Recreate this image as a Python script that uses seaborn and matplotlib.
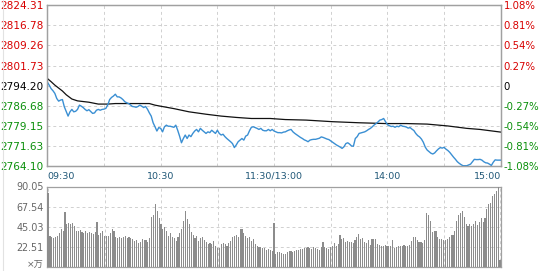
import matplotlib
matplotlib.use("Agg")
import matplotlib.pyplot as plt
import seaborn as sns
from matplotlib.lines import Line2D
from matplotlib.transforms import Affine2D

# ---------------- data ----------------
minutes = list(range(241))  # 0 = 09:30, 120 = 11:30/13:00, 240 = 15:00

price = [
    2795.6, 2794.4, 2793.1, 2792.3, 2791.3, 2789.4, 2788.4, 2788.8, 2789.0, 2786.3,
    2784.5, 2782.8, 2784.4, 2785.3, 2784.4, 2784.6, 2785.3, 2786.9, 2786.5, 2786.0,
    2785.3, 2784.8, 2785.2, 2784.5, 2783.8, 2784.0, 2785.0, 2785.3, 2785.0, 2785.3,
    2785.4, 2785.7, 2787.0, 2789.0, 2789.8, 2790.3, 2791.0, 2790.0, 2790.0, 2789.6,
    2789.0, 2788.2, 2787.8, 2787.5, 2787.0, 2786.4, 2786.3, 2786.1, 2786.4, 2786.9,
    2786.5, 2786.0, 2786.4, 2785.4, 2784.0, 2782.8, 2780.3, 2778.8, 2777.2, 2778.5,
    2778.2, 2776.9, 2778.8, 2779.4, 2779.0, 2779.0, 2778.8, 2778.6, 2779.4, 2777.5,
    2775.3, 2772.8, 2774.4, 2775.7, 2774.4, 2775.7, 2775.1, 2776.3, 2777.2, 2777.8,
    2776.9, 2778.2, 2777.5, 2776.9, 2776.3, 2776.9, 2776.6, 2777.5, 2776.9, 2776.3,
    2777.5, 2776.3, 2775.7, 2776.0, 2775.1, 2774.4, 2773.8, 2773.2, 2772.5, 2771.0,
    2772.0, 2773.2, 2773.8, 2774.4, 2773.8, 2775.3, 2775.7, 2777.3, 2778.6, 2778.8,
    2778.5, 2778.2, 2777.8, 2778.2, 2777.5, 2777.3, 2777.3, 2777.8, 2777.3, 2777.8,
    2777.2, 2776.9, 2776.6, 2776.6, 2776.5, 2776.8, 2776.9, 2777.3, 2777.6, 2777.8,
    2776.9, 2776.3, 2775.8, 2775.3, 2774.8, 2774.4, 2773.9, 2773.6, 2773.2, 2773.8,
    2774.0, 2774.1, 2774.1, 2774.3, 2774.5, 2775.0, 2774.8, 2774.5, 2774.2, 2774.0,
    2773.5, 2773.0, 2772.5, 2772.0, 2771.6, 2771.2, 2770.7, 2771.3, 2772.5, 2772.8,
    2772.3, 2771.6, 2771.5, 2774.4, 2775.1, 2776.3, 2776.5, 2776.7, 2776.9, 2777.3,
    2777.8, 2778.2, 2778.8, 2779.5, 2780.0, 2780.6, 2781.3, 2781.5, 2781.9, 2780.7,
    2779.6, 2779.2, 2778.9, 2779.0, 2778.6, 2779.0, 2778.8, 2779.4, 2779.0, 2778.9,
    2778.7, 2778.3, 2778.5, 2777.9, 2777.4, 2776.3, 2775.5, 2775.0, 2774.2, 2773.0,
    2771.2, 2770.1, 2769.5, 2768.9, 2768.6, 2769.0, 2769.8, 2770.5, 2771.0, 2770.8,
    2771.1, 2770.4, 2769.9, 2769.2, 2768.3, 2767.4, 2766.6, 2765.7, 2765.1, 2764.6,
    2764.2, 2764.2, 2764.2, 2764.5, 2764.8, 2765.7, 2766.6, 2766.5, 2766.5, 2766.6,
    2766.3, 2765.7, 2765.3, 2765.2, 2764.8, 2764.3, 2765.5, 2766.4, 2766.3, 2766.3,
    2766.3,
]

avg_minutes = [0, 2, 4, 6, 8, 10, 13, 16, 22, 27, 32, 36, 45, 54, 57, 60, 67, 75,
               84, 92, 100, 108, 118, 126, 137, 151, 165, 179, 190, 201, 212, 222, 229, 240]
avg_price = [2796.9, 2795.7, 2794.4, 2793.3, 2792.2, 2790.8, 2789.2, 2788.5, 2788.0,
             2787.3, 2787.3, 2787.5, 2787.5, 2787.5, 2786.9, 2786.5, 2785.6, 2784.4,
             2783.5, 2782.8, 2782.3, 2781.9, 2781.9, 2781.5, 2781.3, 2780.7, 2780.3,
             2780.0, 2780.0, 2779.8, 2779.1, 2778.2, 2777.8, 2776.8]

volume = [
    83, 35, 34, 32, 33, 35, 37.5, 42, 40, 61,
    48, 49, 48, 49.5, 46, 40.5, 40, 41, 38.6, 37.5,
    40, 37.5, 38.6, 37.5, 36.8, 38.6, 50, 36, 37.5, 40,
    35, 35, 34.5, 37.5, 42, 40, 33, 32, 34, 32,
    34, 35, 32, 33, 32, 31, 29, 30, 27, 28.5,
    31, 30, 30, 28.5, 32, 56, 58, 70, 63, 55,
    48, 42, 45, 40.5, 35, 37.5, 34, 32, 29, 33,
    37.5, 42, 52, 63, 53.6, 48, 38.6, 36, 32, 35,
    29, 32, 33, 30, 28.5, 26, 27, 25.5, 29, 23,
    21.8, 21, 25.5, 27, 26, 23.6, 27.4, 29, 33, 34.5,
    36, 34, 42, 42.8, 37.5, 35, 32, 33, 29, 31,
    25.5, 23.6, 22.5, 22.5, 21.8, 21, 19.5, 20, 19.5, 18,
    49.5,
    14, 17, 17, 16, 15, 14, 17, 18, 18, 17,
    18, 19, 19, 20, 20, 21, 21, 22, 21, 20,
    22, 21, 20, 19, 22, 28, 22, 21, 20, 22,
    23, 27, 24, 26, 36, 31, 32, 28, 29, 28,
    28, 27, 30, 33, 37, 31, 32, 28, 27, 30,
    25, 31, 31, 31, 26, 25, 24, 23, 25, 24,
    23, 24, 30, 21, 22, 23, 24, 24, 25, 23,
    24, 25, 29, 33, 33, 30, 28, 28, 27, 30,
    60, 58.5, 52, 38.6, 40, 40, 33, 31, 31, 30,
    30, 31, 33, 36, 36, 40, 52, 58, 60, 63,
    56, 48, 46, 48, 46, 48, 52, 47, 50, 55,
    50, 55, 65, 70, 72, 79, 82, 85, 89, 8,
]

price_ticks = [2764.10, 2771.63, 2779.15, 2786.68, 2794.20, 2801.73, 2809.26, 2816.78, 2824.31]
price_labels = ["2764.10", "2771.63", "2779.15", "2786.68", "2794.20",
                "2801.73", "2809.26", "2816.78", "2824.31"]
pct_labels = ["-1.08%", "-0.81%", "-0.54%", "-0.27%", "0", "0.27%", "0.54%", "0.81%", "1.08%"]
vol_ticks = [0, 22.51, 45.03, 67.54, 90.05]
vol_labels = ["×万", "22.51", "45.03", "67.54", "90.05"]
time_ticks = [0, 30, 60, 90, 120, 150, 180, 210, 240]
time_labels = ["09:30", "", "10:30", "", "11:30/13:00", "", "14:00", "", "15:00"]

# ---------------- style ----------------
sns.set_style("white")
plt.rcParams['font.family'] = ['DejaVu Sans', 'Noto Sans CJK SC']
plt.rcParams['axes.unicode_minus'] = False

RED = "#d80000"
GREEN = "#0a8f0a"
BLACK = "#000000"
label_colors = [GREEN] * 4 + [BLACK] + [RED] * 4
SPINE = "#a0a0a0"
GRID = "#d0d0d0"

W, H = 539, 271
fig = plt.figure(figsize=(W / 100, H / 100), dpi=100)
fig.patch.set_facecolor("white")


def rect(x0, y0, x1, y1):
    return [x0 / W, 1 - y1 / H, (x1 - x0) / W, (y1 - y0) / H]


ax = fig.add_axes(rect(47.3, 5.3, 500.8, 166))
axv = fig.add_axes(rect(47.3, 186.5, 500.8, 267))

# light frame line at far left of image
fig.add_artist(Line2D([2.5 / W, 2.5 / W], [0, 1], color="#e2e2e2", lw=0.8,
                      transform=fig.transFigure))

# ---------------- price panel ----------------
sns.lineplot(x=avg_minutes, y=avg_price, ax=ax, color="#111111", linewidth=0.9,
             zorder=3)
sns.lineplot(x=minutes, y=price, ax=ax, color="#3a8fd3", linewidth=1.0, zorder=4)

ax.set_xlim(0, 240)
ax.set_ylim(price_ticks[0], price_ticks[-1])
ax.set_yticks(price_ticks)
ax.set_yticklabels(price_labels)
for t, c in zip(ax.get_yticklabels(), label_colors):
    t.set_color(c)
ax.set_xticks(time_ticks)
ax.set_xticklabels(time_labels)
xl = ax.get_xticklabels()
xl[0].set_horizontalalignment("left")
xl[-1].set_horizontalalignment("right")
ax.tick_params(axis="y", length=0, pad=2.5, labelsize=7.6)
ax.tick_params(axis="x", length=0, pad=4, labelsize=6.8, labelcolor="#1f5777")
ax.grid(True, color=GRID, linestyle=(0, (3, 3)), linewidth=0.7)
ax.set_axisbelow(True)
ax.set_xlabel("")
ax.set_ylabel("")
for s in ax.spines.values():
    s.set_color(SPINE)
    s.set_linewidth(0.9)

ax2 = ax.twinx()
ax2.set_ylim(price_ticks[0], price_ticks[-1])
ax2.set_yticks(price_ticks)
ax2.set_yticklabels(pct_labels)
for t, c in zip(ax2.get_yticklabels(), label_colors):
    t.set_color(c)
ax2.tick_params(axis="y", length=0, pad=2, labelsize=7.3)
ax2.grid(False)
for s in ax2.spines.values():
    s.set_color(SPINE)
    s.set_linewidth(0.9)

# ---------------- volume panel ----------------
sns.barplot(x=minutes, y=volume, ax=axv, native_scale=True, color="#8c8c8c",
            saturation=1, width=0.6, errorbar=None, linewidth=0, zorder=3)
axv.set_xlim(-0.4, 240.4)
axv.set_ylim(0, 90.05)
axv.set_yticks(vol_ticks)
axv.set_yticklabels(vol_labels)
axv.set_xticks(time_ticks)
axv.set_xticklabels([])
axv.tick_params(axis="y", length=0, pad=2.5, labelsize=6.9, labelcolor="#666666")
axv.tick_params(axis="x", length=0)
axv.grid(True, color=GRID, linestyle=(0, (3, 3)), linewidth=0.7)
axv.set_axisbelow(True)
axv.set_xlabel("")
axv.set_ylabel("")
for s in axv.spines.values():
    s.set_color(SPINE)
    s.set_linewidth(0.9)

# lift the "×万" unit label slightly so it stays inside the image
unit_label = axv.get_yticklabels()[0]
unit_label.set_fontsize(6.6)
unit_label.set_transform(unit_label.get_transform() + Affine2D().translate(0, 3.5))

fig.savefig("out.png", dpi=100, facecolor="white")
